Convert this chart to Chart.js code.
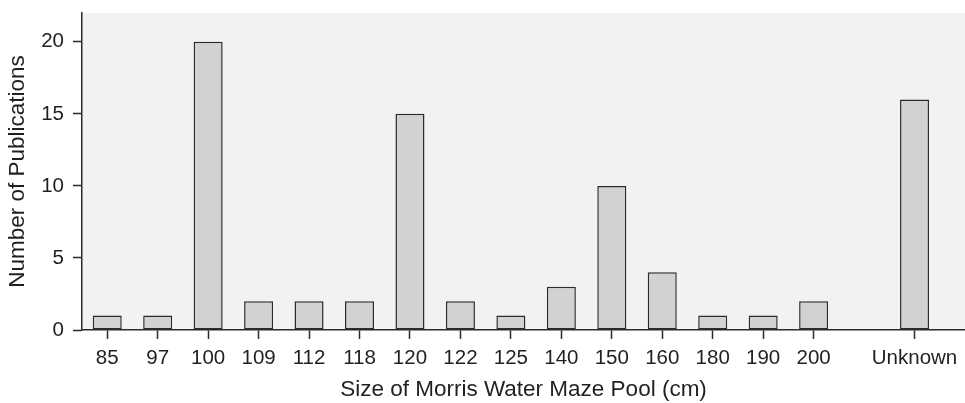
<!DOCTYPE html>
<html>
<head>
<meta charset="utf-8">
<script src="https://cdn.jsdelivr.net/npm/chart.js@4/dist/chart.umd.min.js"></script>
<style>
  html, body { margin: 0; padding: 0; background: #ffffff; }
  #wrap { width: 965px; height: 403px; }
</style>
</head>
<body>
<div id="wrap"><canvas id="c" width="965" height="403"></canvas></div>
<script>
// Categories (pool size in cm); the empty string is the blank slot before "Unknown"
const categories = ['85', '97', '100', '109', '112', '118', '120', '122', '125', '140', '150', '160', '180', '190', '200', '', 'Unknown'];
// Number of publications per category (null = blank slot)
const publications = [1, 1, 20, 2, 2, 2, 15, 2, 1, 3, 10, 4, 1, 1, 2, null, 16];
// Y-axis tick values
const yTicks = [0, 5, 10, 15, 20];

const xTitle = 'Size of Morris Water Maze Pool (cm)';
const yTitle = 'Number of Publications';

const FONT = '"Liberation Sans", Arial, Helvetica, sans-serif';
const TEXT = '#231f20';
const AXIS = '#2b2b2b';

const points = categories
  .map((c, i) => ({ x: i, y: publications[i] }))
  .filter(p => p.y !== null);

const plotBg = {
  id: 'plotBg',
  beforeDraw(chart) {
    const { ctx, chartArea: a } = chart;
    ctx.save();
    ctx.fillStyle = '#f1f2f3';
    ctx.fillRect(a.left, a.top, a.right - a.left, a.bottom - a.top);
    ctx.restore();
  }
};

new Chart(document.getElementById('c'), {
  type: 'bar',
  data: {
    datasets: [{
      data: points,
      backgroundColor: '#d1d2d4',
      borderColor: AXIS,
      borderWidth: 1.5,
      borderSkipped: false,
      barPercentage: 0.575,
      categoryPercentage: 1
    }]
  },
  options: {
    responsive: false,
    devicePixelRatio: 1,
    animation: false,
    layout: { padding: { top: 13, right: 0, bottom: 0, left: 0 } },
    plugins: { legend: { display: false }, tooltip: { enabled: false } },
    scales: {
      x: {
        type: 'linear',
        min: -0.5,
        max: 17,
        offset: false,
        afterBuildTicks(scale) {
          scale.ticks = categories
            .map((c, i) => ({ value: i }))
            .filter(t => categories[t.value] !== '');
        },
        afterFit(scale) {
          scale.height = 73;
          scale.paddingLeft = 0;
          scale.paddingRight = 0;
        },
        grid: {
          display: true,
          offset: false,
          drawOnChartArea: false,
          drawTicks: true,
          tickLength: 9,
          tickColor: AXIS,
          tickWidth: 1.5
        },
        border: { display: true, color: AXIS, width: 1.5 },
        ticks: {
          autoSkip: false,
          maxRotation: 0,
          minRotation: 0,
          padding: 7,
          color: TEXT,
          font: { family: FONT, size: 20.5 },
          callback: (v) => categories[v] ?? ''
        },
        title: {
          display: true,
          text: xTitle,
          color: TEXT,
          font: { family: FONT, size: 22.5 },
          padding: { top: 0, bottom: 0 }
        }
      },
      y: {
        min: 0,
        max: 22,
        afterBuildTicks(scale) {
          scale.ticks = yTicks.map(v => ({ value: v }));
        },
        afterFit(scale) {
          scale.width = 82;
          scale.paddingTop = 0;
          scale.paddingBottom = 0;
        },
        grid: {
          display: true,
          drawOnChartArea: false,
          drawTicks: true,
          tickLength: 9,
          tickColor: AXIS,
          tickWidth: 1.5
        },
        border: { display: true, color: AXIS, width: 1.5 },
        ticks: {
          padding: 9,
          color: TEXT,
          font: { family: FONT, size: 20.5 }
        },
        title: {
          display: true,
          text: yTitle,
          color: TEXT,
          font: { family: FONT, size: 22.5 },
          padding: { top: 4, bottom: 0 }
        }
      }
    }
  },
  plugins: [plotBg]
});
</script>
</body>
</html>
